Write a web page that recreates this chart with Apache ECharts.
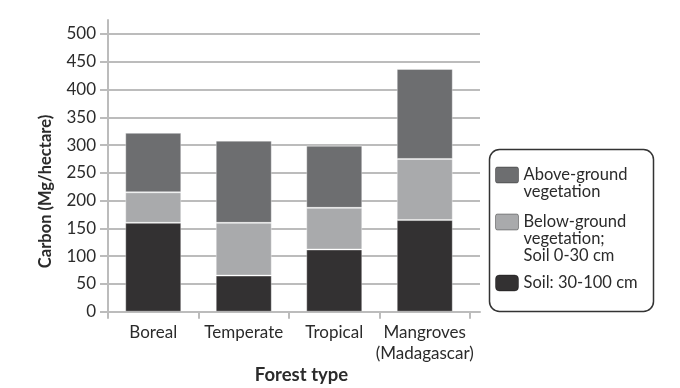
<!DOCTYPE html>
<html>
<head>
<meta charset="utf-8">
<script src="https://cdn.jsdelivr.net/npm/echarts@6/dist/echarts.min.js"></script>
<style>
  html, body { margin: 0; padding: 0; background: #fff; }
  #chart { width: 680px; height: 388px; }
</style>
</head>
<body>
<div id="chart"></div>
<script>
const categories = ['Boreal', 'Temperate', 'Tropical', 'Mangroves\n(Madagascar)'];
const soilDeep = [160, 65, 112, 165];
const belowGround = [55, 95, 75, 110];
const aboveGround = [107, 148, 112, 162];
const seriesNames = ['Above-ground\nvegetation', 'Below-ground\nvegetation;\nSoil 0-30 cm', 'Soil: 30-100 cm'];
const yMin = 0, yMax = 500, yStep = 50;

const FONT = 'Lato';
const TXT = '#2b2b2b';
const GRIDC = '#bcbcbc';
const colAbove = '#6d6e70', colBelow = '#a9aaac', colSoil = '#333132';

const chart = echarts.init(document.getElementById('chart'));

// swatch path: rounded 23x16 box, plus an invisible point below it so the
// multi-line label's first line lines up with the swatch
function swatchPath(h) {
  return 'path://M2,0 L21,0 Q23,0 23,2 L23,14 Q23,16 21,16 L2,16 Q0,16 0,14 L0,2 Q0,0 2,0 Z ' +
         'M11,' + h + ' L11.01,' + h + ' Z';
}

function legendFor(name, top, h) {
  return {
    show: true,
    orient: 'vertical',
    left: 495,
    top: top,
    padding: 0,
    itemGap: 0,
    itemWidth: 23,
    itemHeight: h,
    icon: h > 16 ? swatchPath(h) : 'roundRect',
    selectedMode: false,
    data: [name],
    itemStyle: { borderColor: 'rgba(0,0,0,0.35)', borderWidth: 1 },
    textStyle: { fontFamily: FONT, fontSize: 16.5, color: TXT, lineHeight: 17 }
  };
}

const barStyle = (c) => ({ color: c, borderColor: 'rgba(255,255,255,0.35)', borderWidth: 1 });

chart.setOption({
  animation: false,
  textStyle: { fontFamily: FONT },
  grid: [
    { left: 108, width: 372, top: 34, height: 277.7 },
    { left: 108, width: 362, top: 34, height: 277.7 },
    { left: 108, width: 372, top: 20, height: 291.7 }
  ],
  xAxis: [
    { gridIndex: 0, type: 'value', min: 0, max: 1,
      axisLine: { show: true, lineStyle: { color: GRIDC, width: 2 } },
      axisTick: { show: false }, axisLabel: { show: false }, splitLine: { show: false } },
    { gridIndex: 1, type: 'category', data: categories,
      axisLine: { show: false },
      axisTick: { show: true, length: 7, lineStyle: { color: GRIDC, width: 2 } },
      axisLabel: { interval: 0, fontFamily: FONT, fontSize: 17, color: TXT, margin: 10, lineHeight: 21 } },
    { gridIndex: 2, type: 'value', show: false, min: 0, max: 1 }
  ],
  yAxis: [
    { gridIndex: 0, type: 'value', min: yMin, max: yMax, interval: yStep,
      axisLine: { show: false },
      axisTick: { show: true, length: 8, lineStyle: { color: GRIDC, width: 2 } },
      axisLabel: { fontFamily: FONT, fontSize: 17, color: TXT, margin: 12 },
      splitLine: { show: true, lineStyle: { color: GRIDC, width: 2 } } },
    { gridIndex: 1, type: 'value', min: yMin, max: yMax, interval: yStep, show: false },
    { gridIndex: 2, type: 'value', min: 0, max: 1,
      axisLine: { show: true, lineStyle: { color: GRIDC, width: 2 } },
      axisTick: { show: false }, axisLabel: { show: false }, splitLine: { show: false } }
  ],
  legend: [
    legendFor(seriesNames[0], 166.5, 33),
    legendFor(seriesNames[1], 213.5, 50),
    legendFor(seriesNames[2], 274.5, 16)
  ],
  graphic: [
    { type: 'rect', left: 487, top: 147, silent: true,
      shape: { x: 0, y: 0, width: 164, height: 162, r: 10 },
      style: { fill: 'none', stroke: '#333', lineWidth: 1.5 } },
    { type: 'text', x: 46, y: 191.5, rotation: Math.PI / 2, silent: true,
      style: { text: 'Carbon (Mg/hectare)', fontFamily: FONT, fontSize: 16.5, fontWeight: 'bold',
               fill: TXT, align: 'center', verticalAlign: 'middle' } },
    { type: 'text', x: 301.5, y: 375, silent: true,
      style: { text: 'Forest type', fontFamily: FONT, fontSize: 18.5, fontWeight: 'bold',
               fill: TXT, align: 'center', verticalAlign: 'middle' } }
  ],
  series: [
    { name: seriesNames[2], type: 'bar', stack: 'c', xAxisIndex: 1, yAxisIndex: 1,
      barWidth: 56, data: soilDeep, itemStyle: barStyle(colSoil) },
    { name: seriesNames[1], type: 'bar', stack: 'c', xAxisIndex: 1, yAxisIndex: 1,
      barWidth: 56, data: belowGround, itemStyle: barStyle(colBelow) },
    { name: seriesNames[0], type: 'bar', stack: 'c', xAxisIndex: 1, yAxisIndex: 1,
      barWidth: 56, data: aboveGround, itemStyle: barStyle(colAbove) }
  ]
});
</script>
</body>
</html>
